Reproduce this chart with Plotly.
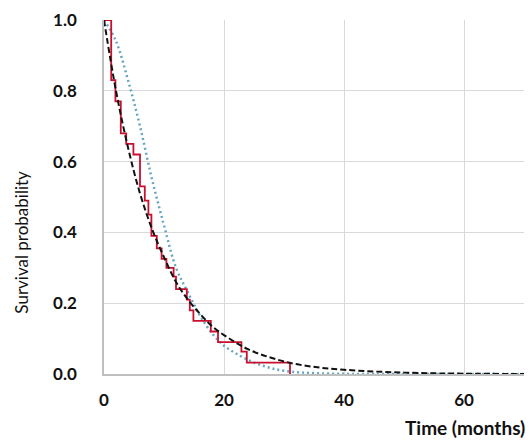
import plotly.graph_objects as go

# Kaplan-Meier steps (time of drop, survival after drop)
km_time = [0, 1.2, 1.9, 2.8, 3.7, 4.9, 6.0, 6.8, 7.4, 7.9, 8.8, 9.6, 10.4, 11.6, 12.0,
           13.8, 14.3, 14.9, 17.8, 19.0, 22.9, 23.8, 31.0]
km_surv = [1.0, 0.83, 0.77, 0.68, 0.65, 0.62, 0.53, 0.49, 0.45, 0.39, 0.355, 0.325, 0.30,
           0.275, 0.24, 0.21, 0.18, 0.15, 0.12, 0.09, 0.063, 0.032, 0.0]

# Fitted model 1 (black dashed)
fit1_time = [0, 2, 4, 6, 8, 10, 12, 14, 16, 18, 20, 24, 28, 32, 36, 40, 45, 50, 55, 60, 70]
fit1_surv = [1.0, 0.80, 0.64, 0.51, 0.41, 0.33, 0.26, 0.21, 0.17, 0.135, 0.11, 0.07, 0.045,
             0.028, 0.018, 0.012, 0.007, 0.004, 0.002, 0.001, 0.0]

# Fitted model 2 (blue dotted)
fit2_time = [0, 2, 4, 6, 8, 10, 12, 14, 16, 18, 20, 22, 24, 26, 28, 30, 33, 38, 45, 70]
fit2_surv = [1.0, 0.94, 0.83, 0.70, 0.55, 0.42, 0.30, 0.23, 0.165, 0.115, 0.08, 0.058, 0.04,
             0.026, 0.016, 0.009, 0.004, 0.001, 0.0, 0.0]

x_ticks = [0, 20, 40, 60]
y_ticks = [0.0, 0.2, 0.4, 0.6, 0.8, 1.0]
y_ticklabels = ["0.0", "0.2", "0.4", "0.6", "0.8", "1.0"]

FONT = "Lato"

fig = go.Figure()
fig.add_trace(go.Scatter(x=fit2_time, y=fit2_surv, mode="lines", line_shape="spline",
                         line=dict(color="#66A6C2", width=2.5, dash="2px,3px"), showlegend=False))
fig.add_trace(go.Scatter(x=km_time, y=km_surv, mode="lines", line_shape="hv",
                         line=dict(color="#C8102E", width=1.8), showlegend=False))
fig.add_trace(go.Scatter(x=fit1_time, y=fit1_surv, mode="lines", line_shape="spline",
                         line=dict(color="#111111", width=2, dash="6px,3px"), showlegend=False))

fig.update_layout(
    width=530, height=441,
    margin=dict(l=104, r=6, t=20, b=67),
    paper_bgcolor="white", plot_bgcolor="white",
    font=dict(family=FONT, color="#111111"),
    xaxis=dict(range=[0, 70], tickvals=x_ticks, ticktext=[f"<b>{v}</b>" for v in x_ticks],
               showgrid=True, gridcolor="#D9D9D9", gridwidth=1,
               showline=True, linecolor="#BFBFBF", linewidth=1.5,
               zeroline=False, ticks="", tickfont=dict(size=17, family=FONT),
               ticklabelstandoff=10),
    yaxis=dict(range=[0, 1], tickvals=y_ticks, ticktext=[f"<b>{t}</b>" for t in y_ticklabels],
               showgrid=True, gridcolor="#D9D9D9", gridwidth=1,
               showline=True, linecolor="#BFBFBF", linewidth=1.5,
               zeroline=False, ticks="", tickfont=dict(size=17, family=FONT),
               ticklabelstandoff=22),
    annotations=[
        dict(text="<b>Time (months)</b>", x=1.008, xref="paper", y=-0.15, yref="paper",
             xanchor="right", yanchor="middle", showarrow=False,
             font=dict(size=19, family=FONT)),
        dict(text="Survival probability", x=-0.196, xref="paper", y=0.373, yref="paper",
             xanchor="center", yanchor="middle", textangle=-90, showarrow=False,
             font=dict(size=17, family=FONT)),
    ],
)

fig.write_html("out.html")
